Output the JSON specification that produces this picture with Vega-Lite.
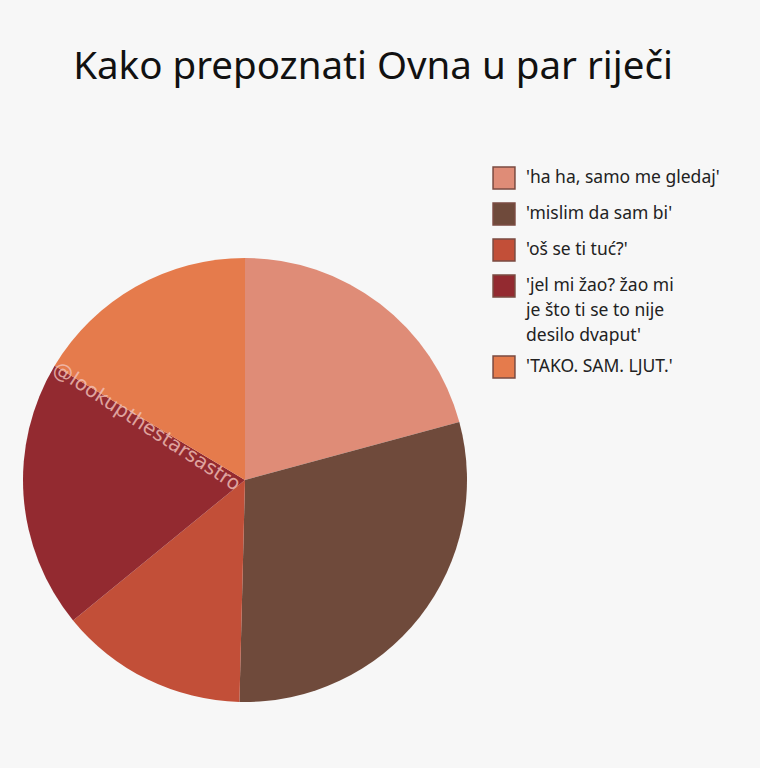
{
  "$schema": "https://vega.github.io/schema/vega-lite/v6.json",
  "autosize": {"type": "none"},
  "width": 490,
  "height": 444,
  "padding": {"left": 0, "top": 258, "right": 270, "bottom": 66},
  "background": "#F7F7F7",
  "title": {
    "text": "Kako prepoznati Ovna u par riječi",
    "font": "Noto Sans",
    "fontSize": 38.5,
    "fontWeight": "normal",
    "color": "#111111",
    "anchor": "middle",
    "dx": 128,
    "offset": 79
  },
  "config": {"view": {"stroke": null}},
  "layer": [
    {
      "data": {
        "values": [
          {"category": "'ha ha, samo me gledaj'", "value": 20.8, "order": 1},
          {"category": "'mislim da sam bi'", "value": 29.6, "order": 2},
          {"category": "'oš se ti tuć?'", "value": 13.7, "order": 3},
          {"category": "'jel mi žao? žao mi je što ti se to nije desilo dvaput'", "value": 19.5, "order": 4},
          {"category": "'TAKO. SAM. LJUT.'", "value": 16.4, "order": 5}
        ]
      },
      "mark": {"type": "arc", "outerRadius": 222},
      "encoding": {
        "theta": {"field": "value", "type": "quantitative", "stack": true, "scale": {"domain": [0, 100]}},
        "order": {"field": "order", "type": "quantitative"},
        "color": {
          "field": "category",
          "type": "nominal",
          "sort": ["'ha ha, samo me gledaj'", "'mislim da sam bi'", "'oš se ti tuć?'", "'jel mi žao? žao mi je što ti se to nije desilo dvaput'", "'TAKO. SAM. LJUT.'"],
          "scale": {
            "domain": ["'ha ha, samo me gledaj'", "'mislim da sam bi'", "'oš se ti tuć?'", "'jel mi žao? žao mi je što ti se to nije desilo dvaput'", "'TAKO. SAM. LJUT.'"],
            "range": ["#DF8C77", "#6F4A3B", "#C24F38", "#932A30", "#E57B4C"]
          },
          "legend": {
            "orient": "none",
            "legendX": 492,
            "legendY": -92,
            "title": null,
            "symbolType": "square",
            "symbolSize": 480,
            "symbolStrokeWidth": 1.5,
            "symbolStrokeColor": "#7a4a40",
            "symbolOpacity": 1,
            "labelFont": "Noto Sans",
            "labelFontSize": 17.5,
            "labelColor": "#222222",
            "labelOffset": 10,
            "labelLimit": 300,
            "rowPadding": 8,
            "labelExpr": "datum.label == \"'jel mi žao? žao mi je što ti se to nije desilo dvaput'\" ? [\"'jel mi žao? žao mi\", \"je što ti se to nije\", \"desilo dvaput'\"] : datum.label",
            "encode": {"labels": {"update": {"lineHeight": {"value": 25}}}}
          }
        }
      }
    },
    {
      "data": {"values": [{"label": "@lookupthestarsastro", "pos": 82.9, "r": 112}]},
      "mark": {"type": "text", "angle": 33, "font": "DejaVu Sans", "fontSize": 20, "color": "#F2C2BA", "opacity": 0.8, "align": "center", "baseline": "middle"},
      "encoding": {
        "theta": {"field": "pos", "type": "quantitative", "stack": null},
        "radius": {"field": "r", "type": "quantitative", "scale": {"type": "linear", "domain": [0, 222], "range": [0, 222], "zero": true}},
        "text": {"field": "label"}
      }
    }
  ]
}
